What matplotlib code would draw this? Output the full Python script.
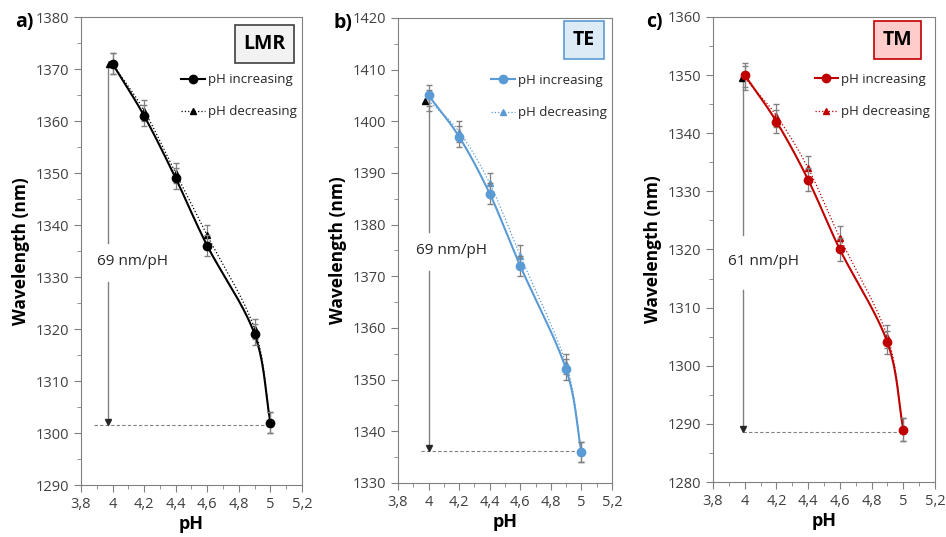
import numpy as np
import matplotlib.pyplot as plt
from matplotlib.ticker import MultipleLocator, FuncFormatter
from matplotlib.lines import Line2D

plt.rcParams['font.family'] = ['Open Sans', 'DejaVu Sans']

ph = [4.0, 4.2, 4.4, 4.6, 4.9, 5.0]

lmr_inc = [1371, 1361, 1349, 1336, 1319, 1302]
lmr_dec = [1371, 1362, 1350, 1338, 1320, 1302]
te_inc = [1405, 1397, 1386, 1372, 1352, 1336]
te_dec = [1404, 1398, 1388, 1374, 1353, 1336]
tm_inc = [1350, 1342, 1332, 1320, 1304, 1289]
tm_dec = [1349.5, 1343, 1334, 1322, 1305, 1289]
err = 2

panels = [
    dict(tag='a)', name='LMR', inc=lmr_inc, dec=lmr_dec, ylim=(1290, 1380),
         color='black', face='#F2F2F2', edge='#404040', arrow_x=3.97,
         sens='69 nm/pH', text_x=3.90, text_y=1333, gap=(1336.5, 1329), base=1301.5, hx0=3.88,
         box=(0.83, 0.942), pos=[0.0856, 0.0968, 0.2336, 0.8715]),
    dict(tag='b)', name='TE', inc=te_inc, dec=te_dec, ylim=(1330, 1420),
         color='#5B9BD5', face='#DDEBF7', edge='#5B9BD5', arrow_x=4.0,
         sens='69 nm/pH', text_x=3.92, text_y=1375, gap=(1378.5, 1371), base=1336.2, hx0=3.95,
         box=(0.87, 0.953), pos=[0.4207, 0.1006, 0.2262, 0.866]),
    dict(tag='c)', name='TM', inc=tm_inc, dec=tm_dec, ylim=(1280, 1360),
         color='#C00000', face='#FFCCCC', edge='#C00000', arrow_x=3.99,
         sens='61 nm/pH', text_x=3.895, text_y=1318, gap=(1322.5, 1313), base=1288.6, hx0=3.99,
         box=(0.83, 0.95), pos=[0.7537, 0.1024, 0.2347, 0.866]),
]


def smooth(x, y, n=30):
    # Catmull-Rom style smoothing like Excel's smoothed line
    x = np.asarray(x, float)
    y = np.asarray(y, float)
    px = np.concatenate([[2 * x[0] - x[1]], x, [2 * x[-1] - x[-2]]])
    py = np.concatenate([[2 * y[0] - y[1]], y, [2 * y[-1] - y[-2]]])
    xs, ys = [], []
    for i in range(1, len(px) - 2):
        t = np.linspace(0, 1, n)
        for arr, out in ((px, xs), (py, ys)):
            p0, p1, p2, p3 = arr[i - 1], arr[i], arr[i + 1], arr[i + 2]
            out.extend(0.5 * ((2 * p1) + (-p0 + p2) * t
                              + (2 * p0 - 5 * p1 + 4 * p2 - p3) * t ** 2
                              + (-p0 + 3 * p1 - 3 * p2 + p3) * t ** 3))
    return xs, ys


fig = plt.figure(figsize=(9.46, 5.37), dpi=100)
tick_col = '#404040'

for p in panels:
    ax = fig.add_axes(p['pos'])
    c = p['color']
    ax.set_xlim(3.8, 5.2)
    ax.set_ylim(*p['ylim'])

    # sensitivity arrow
    ax.plot([p['arrow_x'], p['arrow_x']], [p['dec'][0], p['gap'][0]], color='#808080', lw=1, zorder=1)
    ax.plot([p['arrow_x'], p['arrow_x']], [p['gap'][1], p['base'] + 0.8], color='#808080', lw=1, zorder=1)
    ax.plot(p['arrow_x'], p['base'] + 0.6, marker='v', color='#262626', ms=4, zorder=2)
    ax.plot([p['hx0'], 5.0], [p['base'], p['base']], color='#808080', lw=0.8, ls=(0, (3, 2)), zorder=1)
    ax.text(p['text_x'], p['text_y'], p['sens'], fontsize=11, color='#262626', va='center', ha='left')

    # data
    xs, ys = smooth(ph, p['dec'])
    ax.plot(xs, ys, color=c, lw=0.9, ls=':', zorder=3)
    ax.errorbar(ph, p['dec'], yerr=err, fmt='none', ecolor='#808080', elinewidth=0.9, capsize=2, zorder=3)
    ax.plot(ph[1:], p['dec'][1:], ls='none', marker='^', color=c, ms=5, zorder=4)
    ax.plot(ph[0] - 0.02, p['dec'][0], ls='none', marker='^', color='black', ms=5, zorder=4)

    xs, ys = smooth(ph, p['inc'])
    ax.plot(xs, ys, color=c, lw=1.5, zorder=5)
    ax.errorbar(ph, p['inc'], yerr=err, fmt='none', ecolor='#808080', elinewidth=0.9, capsize=2, zorder=5)
    ax.plot(ph, p['inc'], ls='none', marker='o', color=c, ms=6, zorder=6)

    # axes styling
    for s in ax.spines.values():
        s.set_color('#808080')
    ax.xaxis.set_major_locator(MultipleLocator(0.2))
    ax.xaxis.set_minor_locator(MultipleLocator(0.1))
    ax.yaxis.set_major_locator(MultipleLocator(10))
    ax.yaxis.set_minor_locator(MultipleLocator(5))
    ax.xaxis.set_major_formatter(FuncFormatter(lambda v, pos: ('%g' % round(v, 1)).replace('.', ',')))
    ax.tick_params(which='both', direction='out', color='#808080', labelcolor=tick_col, labelsize=10.5)
    ax.tick_params(which='major', length=5)
    ax.tick_params(which='minor', length=3)
    ax.set_xlabel('pH', fontsize=13, fontweight='bold', labelpad=2)
    ax.set_ylabel('Wavelength (nm)', fontsize=12.5, fontweight='bold', labelpad=4)

    ax.text(-0.3, 0.99, p['tag'], transform=ax.transAxes, fontsize=14, fontweight='bold',
            ha='left', va='center')
    ax.text(p['box'][0], p['box'][1], p['name'], transform=ax.transAxes, fontsize=14,
            fontweight='bold', ha='center', va='center',
            bbox=dict(boxstyle='square,pad=0.45', facecolor=p['face'], edgecolor=p['edge'], lw=1.2))

    handles = [Line2D([], [], color=c, lw=1.5, marker='o', ms=6),
               Line2D([], [], color=c, lw=0.9, ls=':', marker='^', ms=5)]
    ax.legend(handles, ['pH increasing', 'pH decreasing'], loc='upper right',
              bbox_to_anchor=(1.03, 0.905), frameon=False, fontsize=9.5,
              handlelength=1.8, handletextpad=0.2, labelspacing=1.45, labelcolor='#262626')

fig.savefig('out.png', dpi=100)
